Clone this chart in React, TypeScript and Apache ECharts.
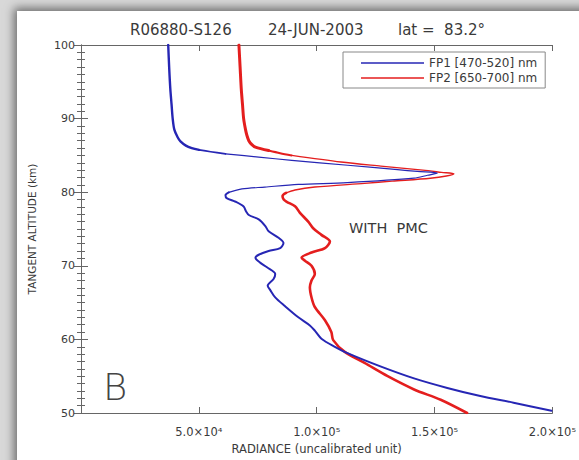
import React, { useEffect, useRef } from "react";
import * as echarts from "echarts";

// FP1 [470-520] nm (blue): tangent altitude (km) and radiance
const fp1Alt = [100, 97, 94, 92, 90, 88.5, 87.46, 86.9, 86.33, 86.0, 85.75, 85.5, 85.2, 84.77, 84.32, 83.66, 83.07, 82.82, 82.6, 82.3, 81.9, 81.3, 81.05, 80.7, 80.45, 79.98, 79.6, 79.2, 78.7, 78.05, 77.4, 76.9, 76.3, 75.4, 74.7, 73.8, 73.1, 72.4, 72.0, 71.5, 71.1, 70.4, 69.8, 68.9, 68.2, 67.3, 66.7, 65.7, 64.5, 63.0, 61.9, 61.2, 60.1, 59.0, 58.1, 56.3, 54.7, 53.4, 52.3, 51.4, 50.3];
const fp1Rad = [37000, 37400, 37900, 38400, 38900, 39600, 41000, 42200, 44500, 47000, 50100, 55000, 61300, 75400, 89400, 113200, 134300, 142700, 151200, 147000, 141300, 113000, 92200, 78000, 68300, 62700, 61300, 61800, 65600, 69000, 70000, 71200, 75400, 78200, 79600, 83800, 85900, 84500, 79600, 75400, 74000, 76100, 78900, 82400, 81700, 79200, 80300, 82400, 86600, 92200, 97100, 99200, 102000, 107700, 113300, 127300, 141300, 155400, 169400, 183500, 199600];

// FP2 [650-700] nm (red)
const fp2Alt = [100, 97, 94, 92, 90, 88.5, 87.7, 87.0, 86.5, 86.12, 85.66, 85.3, 85.0, 84.1, 83.55, 83.0, 82.7, 82.5, 82.2, 81.9, 81.5, 81.2, 80.7, 80.3, 79.9, 79.5, 79.0, 78.7, 78.1, 77.2, 76.0, 75.1, 74.2, 73.3, 72.4, 71.8, 71.1, 70.7, 70.0, 68.9, 68.0, 67.1, 65.7, 64.4, 62.6, 61.0, 59.9, 58.3, 56.8, 55.0, 53.2, 51.8, 50.0];
const fp2Rad = [67000, 67500, 68000, 68500, 69000, 69800, 70400, 71200, 72400, 74000, 79600, 84500, 89400, 110300, 127200, 145000, 153000, 158200, 155000, 148200, 132000, 120300, 99200, 90800, 87000, 85500, 86000, 87300, 90800, 92900, 96400, 98500, 102000, 105600, 103500, 97800, 93600, 95000, 97800, 99200, 97800, 97100, 97800, 99200, 103500, 106200, 107000, 111900, 120300, 130100, 141300, 152600, 163800];

const seriesNames = ["FP1 [470-520] nm", "FP2 [650-700] nm"];
const xTickLabels = ["", "5.0×10⁴", "1.0×10⁵", "1.5×10⁵", "2.0×10⁵"];
const yTickLabels = ["50", "60", "70", "80", "90", "100"];
const titleParts = ["R06880-S126", "24-JUN-2003", "lat =  83.2°"];
const annotation = "WITH  PMC";
const panelLetter = "B";
const xName = "RADIANCE (uncalibrated unit)";
const yName = "TANGENT ALTITUDE (km)";

const FONT = "DejaVu Sans, Verdana, sans-serif";
const BLUE = "#2626b4";
const RED = "#e41e1e";

// split a profile into pieces at the given altitudes (pieces share their end points)
function split(alt: number[], rad: number[], cuts: number[]): number[][][] {
  const out: number[][][] = [];
  let cur: number[][] = [];
  let ci = 0;
  for (let i = 0; i < alt.length; i++) {
    cur.push([rad[i], alt[i]]);
    if (ci < cuts.length && alt[i] === cuts[ci]) {
      out.push(cur);
      cur = [[rad[i], alt[i]]];
      ci++;
    }
  }
  out.push(cur);
  return out;
}

export default function App() {
  const ref = useRef<HTMLDivElement>(null);
  useEffect(() => {
    if (!ref.current) return;
    const chart = echarts.init(ref.current, undefined, { renderer: "svg" });
    const axisColor = "#666";
    const textColor = "#3a3a3a";
    const b = split(fp1Alt, fp1Rad, [85.75, 85.2, 79.98]);
    const r = split(fp2Alt, fp2Rad, [85.66, 85.0, 79.9]);
    const bw = [2.4, 1.7, 1.2, 2];
    const rw = [3, 2, 1.4, 2.6];
    const mk = (name: string, data: number[][], color: string, width: number, z: number) => ({
      name,
      type: "line",
      data,
      symbol: "none",
      smooth: 0.3,
      clip: true,
      z,
      lineStyle: { color, width, cap: "round", join: "round" },
      itemStyle: { color },
    });
    const series: any[] = [];
    b.forEach((d, i) => series.push(mk(seriesNames[0], d, BLUE, bw[i], 3)));
    r.forEach((d, i) => series.push(mk(seriesNames[1], d, RED, rw[i], 2)));

    chart.setOption({
      animation: false,
      backgroundColor: "transparent",
      grid: { left: 81, right: 23, top: 45, bottom: 43 },
      legend: {
        left: 343,
        top: 52,
        orient: "vertical",
        data: seriesNames,
        icon: "rect",
        itemWidth: 63,
        itemHeight: 1.6,
        itemGap: 3,
        padding: [5, 8, 4, 18],
        borderColor: "#888",
        borderWidth: 1,
        textStyle: { fontSize: 12, color: textColor, fontFamily: FONT },
      },
      xAxis: [
        {
          type: "value",
          min: 0,
          max: 200000,
          interval: 50000,
          name: xName,
          nameLocation: "middle",
          nameGap: 30,
          nameTextStyle: { fontSize: 11.5, color: textColor, fontFamily: FONT },
          axisLine: { show: true, lineStyle: { color: axisColor, width: 1 } },
          axisTick: { show: true, inside: true, length: 6, lineStyle: { color: axisColor } },
          axisLabel: {
            margin: 13,
            fontSize: 11.5,
            color: textColor,
            fontFamily: FONT,
            formatter: (v: number) => xTickLabels[Math.round(v / 50000)] ?? "",
          },
          splitLine: { show: false },
        },
        {
          type: "value",
          position: "top",
          min: 0,
          max: 200000,
          interval: 50000,
          axisLine: { show: true, lineStyle: { color: axisColor, width: 1 } },
          axisTick: { show: true, inside: true, length: 6, lineStyle: { color: axisColor } },
          axisLabel: { show: false },
          splitLine: { show: false },
        },
      ],
      yAxis: [
        {
          type: "value",
          min: 50,
          max: 100,
          interval: 10,
          name: yName,
          nameLocation: "middle",
          nameGap: 44,
          nameTextStyle: { fontSize: 10.5, color: textColor, fontFamily: FONT },
          axisLine: { show: true, lineStyle: { color: axisColor, width: 1 } },
          axisTick: { show: true, inside: true, length: 7, lineStyle: { color: axisColor } },
          minorTick: { show: true, splitNumber: 10, length: 4, lineStyle: { color: axisColor } },
          axisLabel: {
            margin: 6,
            fontSize: 11,
            color: textColor,
            fontFamily: FONT,
            formatter: (v: number) => yTickLabels[Math.round((v - 50) / 10)] ?? "",
          },
          splitLine: { show: false },
        },
        {
          type: "value",
          position: "right",
          min: 50,
          max: 100,
          interval: 10,
          axisLine: { show: true, lineStyle: { color: axisColor, width: 1 } },
          axisTick: { show: true, inside: true, length: 7, lineStyle: { color: axisColor } },
          minorTick: { show: true, splitNumber: 10, length: 4, lineStyle: { color: axisColor } },
          axisLabel: { show: false },
          splitLine: { show: false },
        },
      ],
      series,
      graphic: [
        { type: "text", x: 130, y: 30, style: { text: titleParts[0], fontSize: 15, fill: textColor, fontFamily: FONT, verticalAlign: "middle" } },
        { type: "text", x: 268, y: 30, style: { text: titleParts[1], fontSize: 15, fill: textColor, fontFamily: FONT, verticalAlign: "middle" } },
        { type: "text", x: 398, y: 30, style: { text: titleParts[2], fontSize: 15, fill: textColor, fontFamily: FONT, verticalAlign: "middle" } },
        { type: "text", x: 349, y: 228, style: { text: annotation, fontSize: 14.5, fill: textColor, fontFamily: FONT, verticalAlign: "middle" } },
        { type: "text", x: 103, y: 387, style: { text: panelLetter, fontSize: 37, fill: "#444", fontFamily: "DejaVu Sans", fontWeight: 200, verticalAlign: "middle" } },
      ],
    });
    return () => chart.dispose();
  }, []);

  return (
    <div style={{ position: "fixed", left: 0, top: 0, width: 579, height: 460, background: "#d8d8d8", overflow: "hidden" }}>
      <div
        style={{
          position: "absolute",
          left: 17,
          top: 11,
          width: 600,
          height: 480,
          background: "#fff",
          boxShadow: "-3px -3px 9px rgba(0,0,0,0.5)",
        }}
      />
      <div ref={ref} style={{ position: "absolute", left: 0, top: 0, width: 579, height: 460 }} />
    </div>
  );
}
